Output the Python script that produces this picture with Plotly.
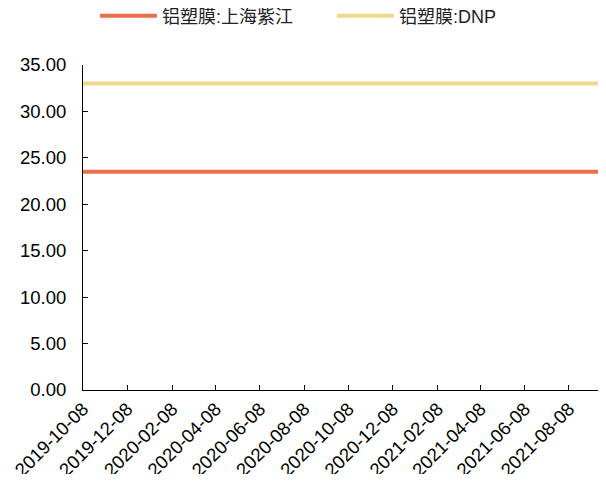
import plotly.graph_objects as go

dates = ["2019-10-08", "2021-09-24"]
zijiang = [23.5, 23.5]
dnp = [33.0, 33.0]
series_names = ["铝塑膜:上海紫江", "铝塑膜:DNP"]
tick_dates = ["2019-10-08", "2019-12-08", "2020-02-08", "2020-04-08", "2020-06-08",
              "2020-08-08", "2020-10-08", "2020-12-08", "2021-02-08", "2021-04-08",
              "2021-06-08", "2021-08-08"]
y_ticks = [0, 5, 10, 15, 20, 25, 30, 35]

FONT = "Liberation Sans, Arial, Noto Sans CJK SC, sans-serif"

fig = go.Figure()
fig.add_trace(go.Scatter(x=dates, y=zijiang, mode="lines", name=series_names[0],
                         line=dict(color="#EE6E4B", width=4)))
fig.add_trace(go.Scatter(x=dates, y=dnp, mode="lines", name=series_names[1],
                         line=dict(color="#F0D98D", width=4)))

fig.update_layout(
    width=598, height=466,
    margin=dict(l=75, r=3, t=57, b=84, autoexpand=False),
    paper_bgcolor="white", plot_bgcolor="white",
    font=dict(family=FONT, size=18, color="black"),
    showlegend=True,
    legend=dict(orientation="h", x=0.023, xanchor="left", y=1.151, yanchor="middle",
                font=dict(size=18, color="#222222"), entrywidth=165, itemwidth=57,
                bgcolor="rgba(0,0,0,0)"),
    xaxis=dict(type="date", range=["2019-10-08", "2021-09-24"],
               tickvals=tick_dates, ticktext=tick_dates, tickangle=-45,
               ticks="inside", ticklen=5, tickcolor="black",
               showline=True, linecolor="black", linewidth=1,
               showgrid=False, zeroline=False, automargin=False,
               tickfont=dict(size=18.5, color="black")),
    yaxis=dict(range=[0, 35], tickvals=y_ticks, tickformat=".2f",
               ticks="inside", ticklen=5, tickcolor="black",
               showline=True, linecolor="black", linewidth=1,
               showgrid=False, zeroline=False, ticklabelstandoff=12,
               automargin=False,
               tickfont=dict(size=18.5, color="black")),
)

fig.write_html("out.html")
